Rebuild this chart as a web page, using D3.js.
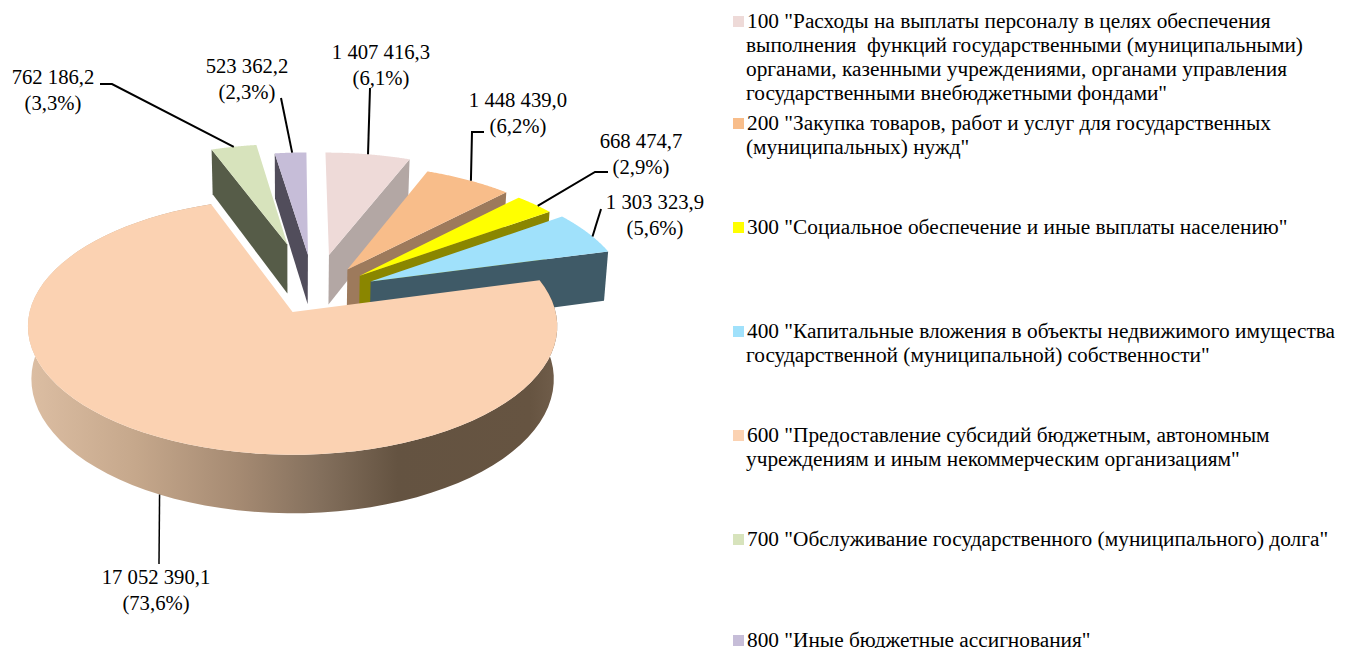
<!DOCTYPE html>
<html><head><meta charset="utf-8">
<script src="https://cdn.jsdelivr.net/npm/d3@7"></script>
<style>html,body{margin:0;padding:0;background:#fff;overflow:hidden}svg{display:block}text{font-family:"Liberation Serif",serif;fill:#000;white-space:pre}</style>
</head><body><svg id="c" width="1354" height="648"></svg>
<script>
const codes = ["100","200","300","400","600","700","800"];
const values = [1407416.3,1448439.0,668474.7,1303323.9,17052390.1,762186.2,523362.2];
const valueLabels = ["1 407 416,3","1 448 439,0","668 474,7","1 303 323,9","17 052 390,1","762 186,2","523 362,2"];
const pctLabels = ["(6,1%)","(6,2%)","(2,9%)","(5,6%)","(73,6%)","(3,3%)","(2,3%)"];
const topColors = ["#eedad8","#f8bd8a","#ffff00","#a0e1fb","#fbd2b2","#d7e3bc","#c6bdd8"];
const wallColors = ["#b3a7a4","#9d7a5c","#8a8600","#3f5a67",null,"#565c48","#514d5b"];
const explosion = [89,65,63,66,42,115,88];
const radii = [260,260,260,262,263,260,260];
const sideShift = [2,2,2,1,0,3,3];
const leaderAt = [.5,.53,.6,.6,.5,.5,.55];
const legendLines = [
 ['100 "Расходы на выплаты персоналу в целях обеспечения','выполнения  функций государственными (муниципальными)','органами, казенными учреждениями, органами управления','государственными внебюджетными фондами"'],
 ['200 "Закупка товаров, работ и услуг для государственных','(муниципальных) нужд"'],
 ['300 "Социальное обеспечение и иные выплаты населению"'],
 ['400 "Капитальные вложения в объекты недвижимого имущества','государственной (муниципальной) собственности"'],
 ['600 "Предоставление субсидий бюджетным, автономным','учреждениям и иным некоммерческим организациям"'],
 ['700 "Обслуживание государственного (муниципального) долга"'],
 ['800 "Иные бюджетные ассигнования"']
];
const legendY = [22,124,228,332,436,540,641];

// perspective camera on the pie's top plane
const cam = {vx:292, vy:-829, H:1141, wall:52, d:2367, lowScale:.987};
const pieC = [20,-37];
const proj = (X,Z,low) => { const s = cam.d/(cam.d-Z); return [cam.vx+X*s*(low?cam.lowScale:1), cam.vy+(cam.H+(low?cam.wall:0))*s]; };

const svg = d3.select("#c");
const line = d3.line();
const arcs = d3.pie().sort(null).startAngle(0).endAngle(2*Math.PI)(values);
const slices = arcs.map((a,i)=>{
  const mid=(a.startAngle+a.endAngle)/2, R=radii[i];
  const ax=pieC[0]+sideShift[i]+explosion[i]*Math.sin(mid), az=pieC[1]-explosion[i]*Math.cos(mid);
  const outer=(t,low)=>proj(ax+R*Math.sin(t),az-R*Math.cos(t),low);
  const apex=low=>proj(ax,az,low);
  const arc=(t0,t1,low)=>d3.range(0,81).map(k=>outer(t0+(t1-t0)*k/80,low));
  return {i,a0:a.startAngle,a1:a.endAngle,mid,outer,apex,arc};
});

const defs = svg.append("defs");
const g = defs.append("linearGradient").attr("id","wallG").attr("gradientUnits","userSpaceOnUse")
  .attr("x1",28).attr("x2",556).attr("y1",0).attr("y2",0);
[[0,"#dcbea3"],[.2,"#c6a88c"],[.4,"#a58a72"],[.55,"#84705d"],[.7,"#645341"],[.95,"#665441"],[1,"#705d4a"]]
  .forEach(([o,c])=>g.append("stop").attr("offset",o).attr("stop-color",c));

const paint=[5,6,0,1,2,3,4];
paint.forEach(i=>{
  const s=slices[i];
  if(i===4){
    svg.append("path").attr("d",line([...s.arc(s.a0,s.a1,false),...s.arc(s.a0,s.a1,true).reverse()])+"Z").attr("fill","url(#wallG)");
  } else {
    const t = (i===5||i===6)? s.a0 : s.a1;
    svg.append("path").attr("d",line([s.apex(false),s.outer(t,false),s.outer(t,true),s.apex(true)])+"Z").attr("fill",wallColors[i]);
  }
  svg.append("path").attr("d",line([s.apex(false),...s.arc(s.a0,s.a1,false)])+"Z").attr("fill",topColors[i]);
});

// leader lines and data labels
const labelPos=[[381,59],[518,107],[641,148],[655,209],[156,584],[53,84],[247,73]];
const elbows=[[[370,88]],[[472,132],[484,132]],[[595,172],[608,172]],[[601,209]],[[159,564]],[[112,84],[100,84]],[[281,98]]];
slices.forEach(s=>{
  const start=s.outer(s.a0+(s.a1-s.a0)*leaderAt[s.i],s.i===4);
  svg.append("path").attr("d",line([start,...elbows[s.i]])).attr("fill","none").attr("stroke","#000").attr("stroke-width",s.i===4?1.5:2);
  const t=svg.append("text").attr("text-anchor","middle").attr("font-size",20.7);
  t.append("tspan").attr("x",labelPos[s.i][0]).attr("y",labelPos[s.i][1]).text(valueLabels[s.i]);
  t.append("tspan").attr("x",labelPos[s.i][0]).attr("y",labelPos[s.i][1]+26).text(pctLabels[s.i]);
});

// legend
legendLines.forEach((lines,i)=>{
  svg.append("rect").attr("x",733).attr("y",legendY[i]-6).attr("width",11).attr("height",11).attr("fill",topColors[i]);
  lines.forEach((l,k)=>{
    svg.append("text").attr("x",k?746:747).attr("y",legendY[i]+6+k*24).attr("font-size",21.33).text(l);
  });
});
</script></body></html>
